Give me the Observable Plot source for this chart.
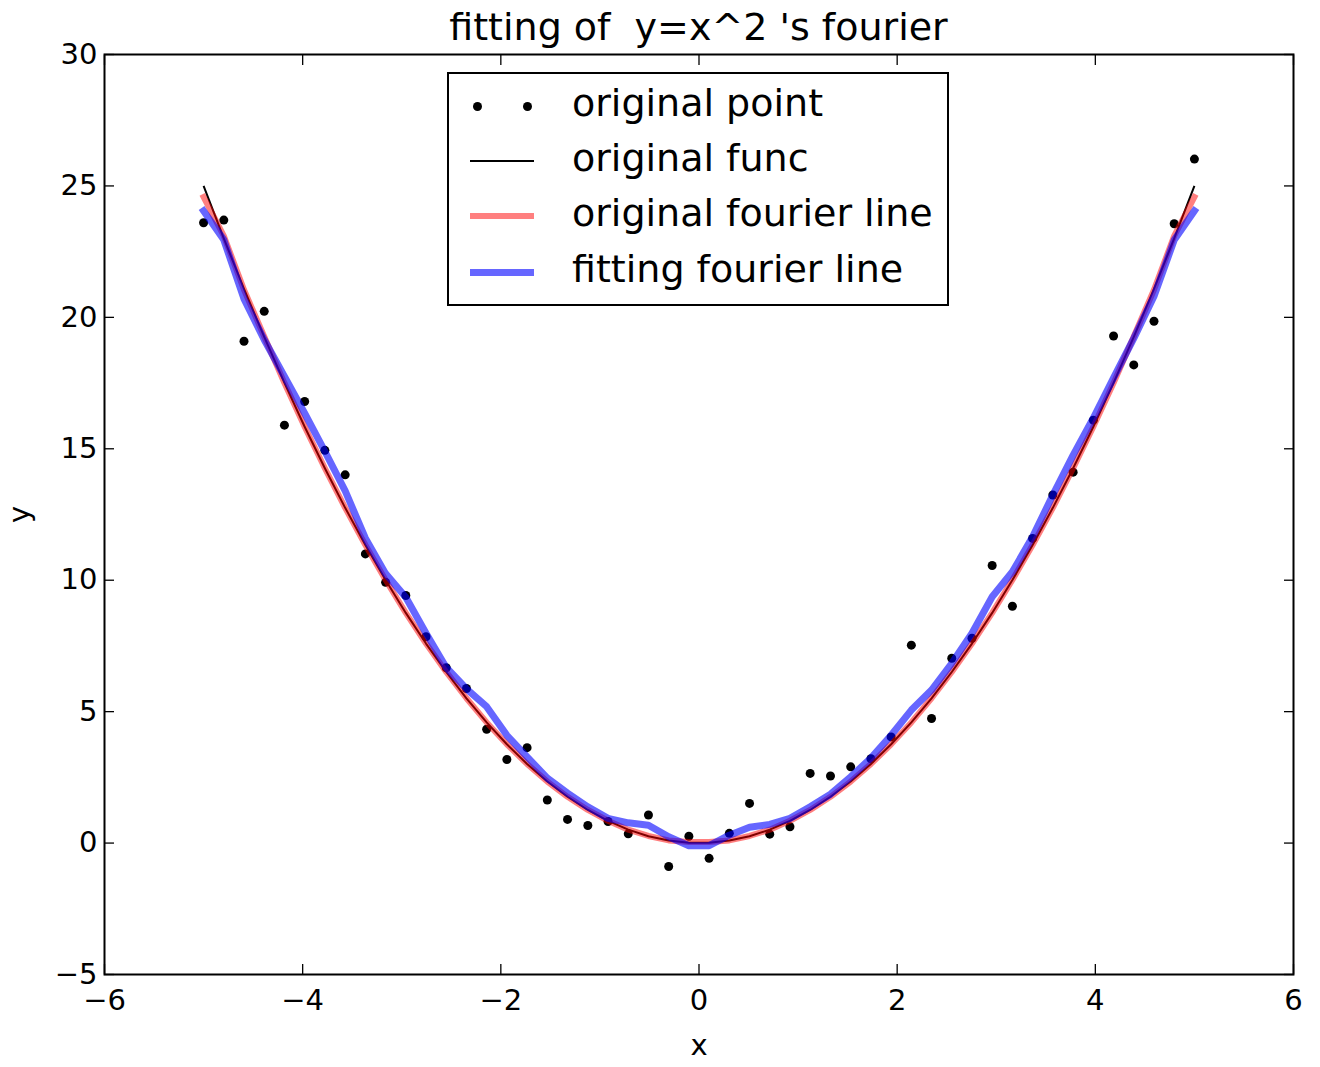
<!DOCTYPE html>
<html>
<head>
<meta charset="utf-8">
<script src="https://cdn.jsdelivr.net/npm/d3@7"></script>
<script src="https://cdn.jsdelivr.net/npm/@observablehq/plot@0.6"></script>
<style>
  html, body { margin: 0; padding: 0; background: #fff; }
  #wrap { position: relative; width: 1320px; height: 1067px; font-family: "DejaVu Sans", sans-serif; color: #000; }
  #title { position: absolute; z-index: 3; left: 104px; width: 1189px; top: 0; height: 44px; line-height: 54px; text-align: center; font-size: 38px; white-space: pre; overflow: visible; }
  #chart { position: absolute; z-index: 1; left: 0; top: 44px; }
  #legend { position: absolute; z-index: 2; left: 447px; top: 72px; width: 502px; height: 234px; box-sizing: border-box; border: 2px solid #000; background: #fff; }
  .row { position: absolute; left: 0; width: 100%; height: 55px; }
  .lbl { position: absolute; left: 123px; top: 0; height: 55px; line-height: 55px; font-size: 38px; white-space: pre; }
  .sw { position: absolute; left: 21px; width: 64px; }
  .dot { position: absolute; width: 9px; height: 9px; border-radius: 50%; background: #000; }
</style>
</head>
<body>
<div id="wrap">
  <div id="title"></div>
  <div id="chart"></div>
  <div id="legend"></div>
</div>
<script>
// ---- data ----
const titleText = "fitting of  y=x^2 's fourier";
const xLabel = "x";
const yLabel = "y";
const xTicks = [-6, -4, -2, 0, 2, 4, 6];
const yTicks = [-5, 0, 5, 10, 15, 20, 25, 30];

const xs = [-5.000, -4.796, -4.592, -4.388, -4.184, -3.980, -3.776, -3.571, -3.367, -3.163,
            -2.959, -2.755, -2.551, -2.347, -2.143, -1.939, -1.735, -1.531, -1.327, -1.122,
            -0.918, -0.714, -0.510, -0.306, -0.102, 0.102, 0.306, 0.510, 0.714, 0.918,
            1.122, 1.327, 1.531, 1.735, 1.939, 2.143, 2.347, 2.551, 2.755, 2.959,
            3.163, 3.367, 3.571, 3.776, 3.980, 4.184, 4.388, 4.592, 4.796, 5.000];

// original noisy points
const pointY = [23.60, 23.70, 19.09, 20.23, 15.90, 16.80, 14.94, 14.01, 11.00, 9.92,
                9.42, 7.85, 6.67, 5.88, 4.33, 3.18, 3.63, 1.64, 0.90, 0.67,
                0.82, 0.35, 1.07, -0.89, 0.26, -0.58, 0.37, 1.51, 0.34, 0.62,
                2.65, 2.55, 2.90, 3.21, 4.04, 7.53, 4.74, 7.03, 7.79, 10.56,
                9.01, 11.59, 13.24, 14.11, 16.09, 19.29, 18.19, 19.85, 23.56, 26.02];

// original function y = x^2 (black line)
const funcY = [25.000, 23.001, 21.087, 19.254, 17.506, 15.840, 14.258, 12.753, 11.337, 10.005,
               8.756, 7.590, 6.508, 5.508, 4.592, 3.760, 3.010, 2.344, 1.761, 1.259,
               0.843, 0.510, 0.260, 0.094, 0.010, 0.010, 0.094, 0.260, 0.510, 0.843,
               1.259, 1.761, 2.344, 3.010, 3.760, 4.592, 5.508, 6.508, 7.590, 8.756,
               10.005, 11.337, 12.753, 14.258, 15.840, 17.506, 19.254, 21.087, 23.001, 25.000];

// original fourier line (red)
const origFourierY = [24.58, 23.10, 21.05, 19.27, 17.50, 15.84, 14.26, 12.75, 11.34, 10.01,
                      8.76, 7.59, 6.51, 5.51, 4.59, 3.76, 3.01, 2.34, 1.76, 1.26,
                      0.85, 0.51, 0.27, 0.10, 0.04, 0.04, 0.10, 0.27, 0.51, 0.85,
                      1.26, 1.76, 2.34, 3.01, 3.76, 4.59, 5.51, 6.51, 7.59, 8.76,
                      10.01, 11.34, 12.75, 14.26, 15.84, 17.50, 19.27, 21.05, 23.10, 24.58];

// fitting fourier line (blue)
const fitFourierY = [24.05, 22.95, 20.70, 19.15, 17.75, 16.35, 14.90, 13.40, 11.60, 10.25,
                     9.35, 7.98, 6.68, 5.87, 5.19, 4.10, 3.28, 2.47, 1.90, 1.38,
                     0.94, 0.77, 0.68, 0.24, -0.10, -0.10, 0.30, 0.60, 0.71, 0.94,
                     1.38, 1.86, 2.52, 3.23, 4.10, 5.06, 5.82, 6.84, 7.98, 9.37,
                     10.32, 11.65, 13.24, 14.76, 16.17, 17.70, 19.20, 20.80, 22.94, 24.05];

const legendLabels = ["original point", "original func", "original fourier line", "fitting fourier line"];

// ---- build tables ----
const points = xs.map((x, i) => ({x, y: pointY[i]}));
const func = xs.map((x, i) => ({x, y: funcY[i]}));
const origF = xs.map((x, i) => ({x, y: origFourierY[i]}));
const fitF = xs.map((x, i) => ({x, y: fitFourierY[i]}));

document.getElementById("title").textContent = titleText;

const chart = Plot.plot({
  width: 1320,
  height: 1023,
  marginTop: 10,
  marginBottom: 93,
  marginLeft: 104,
  marginRight: 27,
  style: {fontFamily: "'DejaVu Sans', sans-serif", fontSize: "29px", color: "#000", background: "transparent", overflow: "visible"},
  x: {domain: [-6, 6]},
  y: {domain: [-5, 30]},
  marks: [
    Plot.dot(points, {x: "x", y: "y", r: 4.5, fill: "#000", stroke: null}),
    Plot.line(func, {x: "x", y: "y", stroke: "#000", strokeWidth: 2, strokeLinecap: "butt"}),
    Plot.line(origF, {x: "x", y: "y", stroke: "#ff0000", strokeOpacity: 0.5, strokeWidth: 6, strokeLinecap: "square"}),
    Plot.line(fitF, {x: "x", y: "y", stroke: "#0000ff", strokeOpacity: 0.6, strokeWidth: 7, strokeLinecap: "square"}),
    Plot.axisX({anchor: "bottom", ticks: xTicks, tickSize: -10, tickPadding: 25, strokeWidth: 1.3,
                label: xLabel, labelAnchor: "center", labelArrow: "none", labelOffset: 80}),
    Plot.axisX({anchor: "top", ticks: xTicks, tickSize: -10, strokeWidth: 1.3, tickFormat: () => "", label: null}),
    Plot.axisY({anchor: "left", ticks: yTicks, tickSize: -10, tickPadding: 17, strokeWidth: 1.3,
                label: yLabel, labelAnchor: "center", labelArrow: "none", labelOffset: 96}),
    Plot.axisY({anchor: "right", ticks: yTicks, tickSize: -10, strokeWidth: 1.3, tickFormat: () => "", label: null}),
    Plot.frame({stroke: "#000", strokeWidth: 2})
  ]
});
document.getElementById("chart").appendChild(chart);

// ---- legend ----
const legend = document.getElementById("legend");
const rowCenters = [32, 87, 142, 198];
legendLabels.forEach((txt, i) => {
  const row = document.createElement("div");
  row.className = "row";
  row.style.top = (rowCenters[i] - 27.5 - 3) + "px";
  const c = 27.5 + 3;
  if (i === 0) {
    [28, 78].forEach(cx => {
      const d = document.createElement("div");
      d.className = "dot";
      d.style.left = (cx - 4.5) + "px";
      d.style.top = (c - 4.5) + "px";
      row.appendChild(d);
    });
  } else {
    const sw = document.createElement("div");
    sw.className = "sw";
    const w = i === 1 ? 2 : (i === 2 ? 6 : 7);
    sw.style.height = w + "px";
    sw.style.top = (c - w / 2) + "px";
    sw.style.background = i === 1 ? "#000" : (i === 2 ? "rgba(255,0,0,0.5)" : "rgba(0,0,255,0.6)");
    row.appendChild(sw);
  }
  const lbl = document.createElement("div");
  lbl.className = "lbl";
  lbl.textContent = txt;
  row.appendChild(lbl);
  legend.appendChild(row);
});
</script>
</body>
</html>
